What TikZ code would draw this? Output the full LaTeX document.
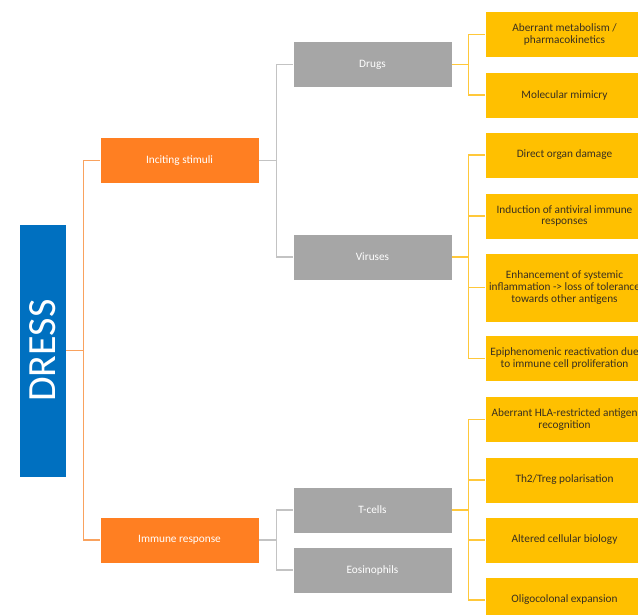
\documentclass[tikz,border=0pt]{standalone}
\usepackage{fontspec}
\setmainfont{Carlito}
\usepackage{graphicx}
\definecolor{dblue}{HTML}{0070C0}
\definecolor{dorange}{HTML}{FF7F22}
\definecolor{dgrey}{HTML}{A6A6A6}
\definecolor{dyellow}{HTML}{FFC000}
\definecolor{lorange}{HTML}{F9A25E}
\definecolor{lgrey}{HTML}{C3C3C3}
\definecolor{lyellow}{HTML}{FFC83A}
\definecolor{dtext}{HTML}{3A3020}
\tikzset{
  basebox/.style={minimum width=159pt, minimum height=46pt, inner sep=0pt, align=center,
    draw=white, line width=0.6pt, font=\fontsize{11.3}{11.8}\selectfont},
  obox/.style={basebox, fill=dorange, text=white},
  gbox/.style={basebox, fill=dgrey, text=white},
  ybox/.style={basebox, fill=dyellow, text=dtext},
  oline/.style={draw=lorange, line width=1.4pt},
  gline/.style={draw=lgrey, line width=1.4pt},
  yline/.style={draw=lyellow, line width=1.4pt},
}
\begin{document}
\begin{tikzpicture}[x=1pt,y=-1pt]
\useasboundingbox (0,0) rectangle (638,615);
\clip (0,0) rectangle (638,615);
\fill[white] (0,0) rectangle (638,615);

\node[fill=dblue, draw=white, line width=0.6pt, minimum width=47pt, minimum height=253pt, inner sep=0pt,
  text=white, font=\fontsize{40}{40}\selectfont] (dress) at (42.5,350.5) {\rotatebox{90}{DRESS}};

\node[obox] (inc) at (179.5,160.5) {Inciting stimuli};
\node[obox] (imm) at (179.5,540) {Immune response};

\node[gbox] (drugs) at (372.5,64.5) {Drugs};
\node[gbox] (vir) at (372.5,257) {Viruses};
\node[gbox] (tcell) at (372.5,510) {T-cells};
\node[gbox] (eos) at (372.5,570) {Eosinophils};

\node[ybox] (y1) at (564.5,34.5) {Aberrant metabolism /\\pharmacokinetics};
\node[ybox] (y2) at (564.5,95) {Molecular mimicry};
\node[ybox] (y3) at (564.5,155) {Direct organ damage};
\node[ybox] (y4) at (564.5,216) {Induction of antiviral immune\\responses};
\node[ybox, minimum height=69pt] (y5) at (564.5,287.5) {Enhancement of systemic\\inflammation -> loss of tolerance\\towards other antigens};
\node[ybox] (y6) at (564.5,358.5) {Epiphenomenic reactivation due\\to immune cell proliferation};
\node[ybox] (y7) at (564.5,419.5) {Aberrant HLA-restricted antigen\\recognition};
\node[ybox] (y8) at (564.5,480) {Th2/Treg polarisation};
\node[ybox] (y9) at (564.5,540) {Altered cellular biology};
\node[ybox] (y10) at (564.5,600) {Oligocolonal expansion};

% orange connectors
\draw[oline] (dress.east) -- ++(17,0) coordinate (j1);
\draw[oline] (j1) |- (inc.west);
\draw[oline] (j1) |- (imm.west);

% grey connectors
\draw[gline] (inc.east) -- ++(17,0) coordinate (j2);
\draw[gline] (j2) |- (drugs.west);
\draw[gline] (j2) |- (vir.west);
\draw[gline] (imm.east) -- ++(17,0) coordinate (j3);
\draw[gline] (j3) |- (tcell.west);
\draw[gline] (j3) |- (eos.west);

% yellow connectors
\draw[yline] (drugs.east) -- ++(16,0) coordinate (j4);
\draw[yline] (j4) |- (y1.west);
\draw[yline] (j4) |- (y2.west);
\draw[yline] (vir.east) -- ++(16,0) coordinate (j5);
\foreach \n in {y3,y4,y5,y6} \draw[yline] (j5) |- (\n.west);
\draw[yline] (tcell.east) -- ++(16,0) coordinate (j6);
\foreach \n in {y7,y8,y9,y10} \draw[yline] (j6) |- (\n.west);
\end{tikzpicture}
\end{document}
